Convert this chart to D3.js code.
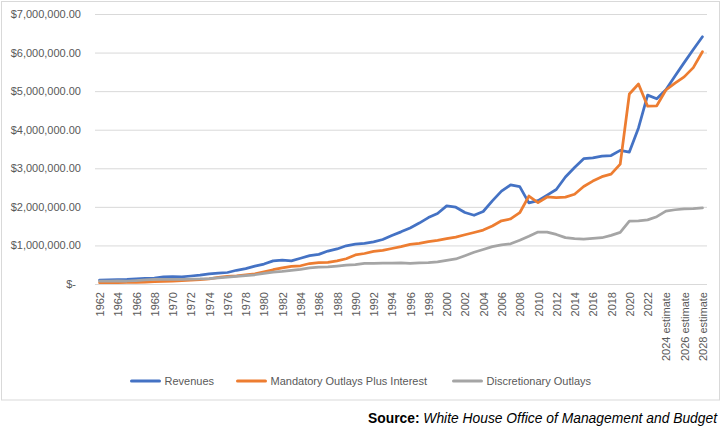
<!DOCTYPE html>
<html>
<head>
<meta charset="utf-8">
<script src="https://cdn.jsdelivr.net/npm/d3@7"></script>
<style>
  html, body { margin: 0; padding: 0; background: #fff; }
  svg { display: block; font-family: "Liberation Sans", Arial, sans-serif; }
</style>
</head>
<body>
<svg id="chart" width="721" height="440"></svg>
<script>
// ---- Data (millions of dollars) ----
const categories = [
  "1962","1963","1964","1965","1966","1967","1968","1969","1970","1971",
  "1972","1973","1974","1975","1976","1977","1978","1979","1980","1981",
  "1982","1983","1984","1985","1986","1987","1988","1989","1990","1991",
  "1992","1993","1994","1995","1996","1997","1998","1999","2000","2001",
  "2002","2003","2004","2005","2006","2007","2008","2009","2010","2011",
  "2012","2013","2014","2015","2016","2017","2018","2019","2020","2021",
  "2022","2023 estimate","2024 estimate","2025 estimate","2026 estimate","2027 estimate","2028 estimate"
];
const revenues = [
  99676,106560,112613,116817,130835,148822,152973,186882,192807,187139,
  207309,230799,263224,279090,298060,355559,399561,463302,517112,599272,
  617766,600562,666438,734037,769155,854287,909238,991104,1031958,1054988,
  1091208,1154334,1258566,1351790,1453053,1579232,1721728,1827452,2025191,1991082,
  1853136,1782314,1880114,2153611,2406869,2567985,2523991,2104989,2162706,2303466,
  2449988,2775103,3021487,3249886,3267961,3316184,3329904,3463364,3421164,4047111,
  4897399,4802000,5036000,5394000,5740000,6079000,6410000
];
const mandatoryPlusInterest = [
  34686,35318,38541,40471,44411,51045,60181,66442,75385,87714,
  102171,115327,131174,174330,196189,212135,240043,264359,314612,370325,
  419706,455117,472368,530577,552002,559823,600106,655000,752404,790910,
  847694,869992,920377,970929,1027865,1054108,1100418,1129831,1174358,1213811,
  1276852,1335687,1397834,1503427,1638440,1687078,1847708,2280128,2109994,2256454,
  2241212,2253721,2327554,2526869,2667541,2782002,2846925,3108629,4925922,5185921,
  4609458,4620000,5030000,5210000,5370000,5610000,6020000
];
const discretionary = [
  72135,75998,79987,77757,90121,106419,117953,117198,120264,122458,
  128510,130380,138185,158002,175603,197083,218703,239669,276329,307916,
  326037,353247,379437,415767,438380,444194,464310,488743,500589,533316,
  533835,539394,541375,544813,532619,547008,552040,572011,614592,649035,
  734042,824212,895007,968530,1016610,1041608,1134836,1237549,1347085,1346611,
  1285351,1201160,1178730,1164981,1185071,1199632,1262117,1338327,1627681,1636549,
  1662050,1745000,1890000,1925000,1945000,1955000,1975000
];
const seriesNames = ["Revenues", "Mandatory Outlays Plus Interest", "Discretionary Outlays"];
const yTicks = [0, 1000000, 2000000, 3000000, 4000000, 5000000, 6000000, 7000000];
const sourceLabel = "Source:";
const sourceText = "White House Office of Management and Budget";

// ---- Layout ----
const colors = ["#4472C4", "#ED7D31", "#A5A5A5"];
const series = [revenues, mandatoryPlusInterest, discretionary];
const svg = d3.select("#chart");
const plot = { left: 95, right: 707, top: 14, bottom: 284 };

svg.append("rect").attr("x", 0).attr("y", 0).attr("width", 721).attr("height", 440).attr("fill", "#fff");
svg.append("rect")
  .attr("x", 1.5).attr("y", 1.5).attr("width", 718).attr("height", 398.5)
  .attr("fill", "none").attr("stroke", "#D9D9D9").attr("stroke-width", 1);

const x = d3.scalePoint().domain(categories).range([plot.left, plot.right]).padding(0.5);
const y = d3.scaleLinear().domain([0, 7000000]).range([plot.bottom, plot.top]);

const fmt = d3.format(",.2f");
// gridlines + y labels
const yAxis = d3.axisLeft(y).tickValues(yTicks)
  .tickSize(-(plot.right - plot.left))
  .tickPadding(14)
  .tickFormat(d => d === 0 ? "$-" : "$" + fmt(d));
const gy = svg.append("g").attr("transform", `translate(${plot.left},0)`).call(yAxis);
gy.select(".domain").remove();
gy.selectAll(".tick line").attr("stroke", "#D9D9D9").attr("stroke-width", 1);
gy.selectAll(".tick text")
  .attr("fill", "#595959").attr("font-size", "11px")
  .attr("dx", d => d === 0 ? -5 : 0);

// x axis labels (every other category)
const xAxis = d3.axisBottom(x)
  .tickValues(categories.filter((c, i) => i % 2 === 0))
  .tickSize(0).tickPadding(0);
const gx = svg.append("g").attr("transform", `translate(0,${plot.bottom})`).call(xAxis);
gx.select(".domain").remove();
gx.selectAll(".tick text")
  .attr("fill", "#595959").attr("font-size", "11px")
  .attr("text-anchor", "end")
  .attr("dominant-baseline", "central")
  .attr("transform", "rotate(-90)")
  .attr("x", -8).attr("y", 0).attr("dy", null);

// lines
const line = d3.line().x((d, i) => x(categories[i])).y(d => y(d));
series.forEach((s, k) => {
  svg.append("path").datum(s)
    .attr("fill", "none").attr("stroke", colors[k])
    .attr("stroke-width", 2.75).attr("stroke-linejoin", "round").attr("stroke-linecap", "round")
    .attr("d", line);
});

// legend
const legendX = [131.5, 237.5, 453.5];
const legendY = 381;
const lg = svg.append("g");
seriesNames.forEach((name, k) => {
  lg.append("line")
    .attr("x1", legendX[k]).attr("x2", legendX[k] + 28)
    .attr("y1", legendY).attr("y2", legendY)
    .attr("stroke", colors[k]).attr("stroke-width", 3).attr("stroke-linecap", "round");
  lg.append("text")
    .attr("x", legendX[k] + 33).attr("y", legendY)
    .attr("dominant-baseline", "central")
    .attr("fill", "#595959").attr("font-size", "11px")
    .text(name);
});

// source
const src = svg.append("text")
  .attr("x", 717).attr("y", 418)
  .attr("text-anchor", "end").attr("dominant-baseline", "central")
  .attr("fill", "#000").attr("font-size", "13px");
src.append("tspan").attr("font-weight", "bold").text(sourceLabel + " ");
src.append("tspan").attr("font-style", "italic").text(sourceText);
const w = src.node().getComputedTextLength();
if (w > 0) src.attr("font-size", (13 * 349 / w).toFixed(2) + "px");
</script>
</body>
</html>
